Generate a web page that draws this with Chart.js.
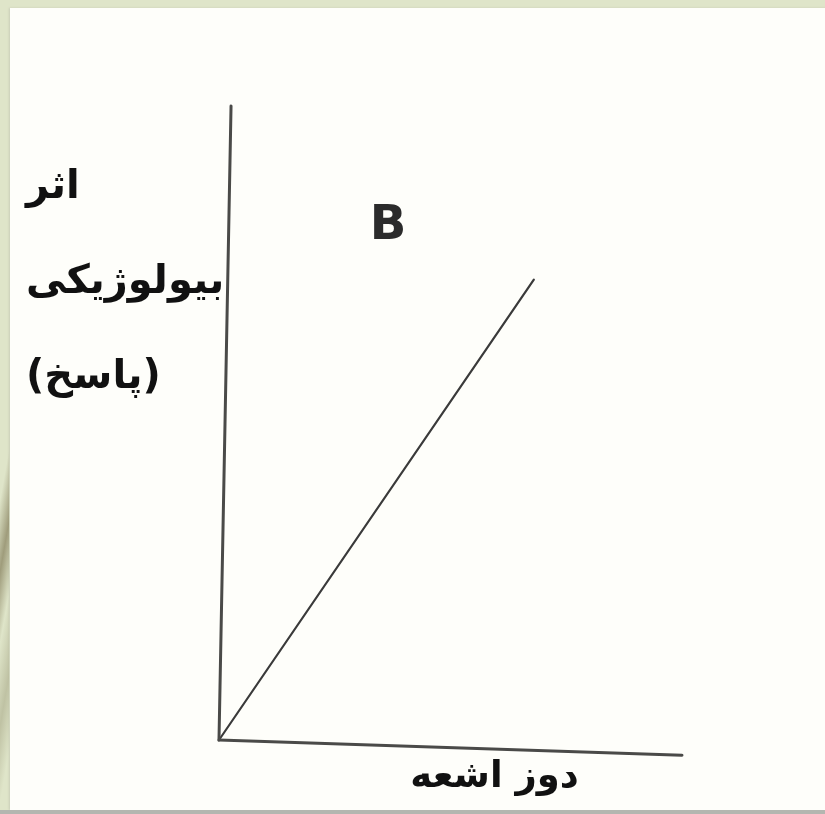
<!DOCTYPE html>
<html lang="fa">
<head>
<meta charset="utf-8">
<title>اثر بیولوژیکی و دوز اشعه</title>
<script src="https://cdn.jsdelivr.net/npm/chart.js@4.4.1/dist/chart.umd.min.js"></script>
<style>
    html, body { margin: 0; padding: 0; }
    body { width: 825px; height: 814px; position: relative; overflow: hidden; background: #dfe5c9; }
    /* صفحه سفید اسلاید */
    .page { position: absolute; left: 10px; top: 8px; width: 830px; height: 802px; background: #fefefa; box-shadow: -1px 0 2px #c9cdb8; }
    .bottom-strip { position: absolute; left: 0; top: 810px; width: 825px; height: 4px; background: #b4b6b0; }
    .stripe { position: absolute; left: 0; top: 380px; width: 9px; height: 430px;
        background: linear-gradient(100deg, transparent 25%, #8f8a68 40%, transparent 55%, #b7b99a 72%, transparent 88%); opacity: 0.8; }
    #nemoodar { position: absolute; left: 0; top: 0; }
</style>
</head>
<body>
<div class="page"></div>
<div class="stripe"></div>
<div class="bottom-strip"></div>
<canvas id="nemoodar" width="825" height="814"></canvas>

<script>
// داده ها - دوز اشعه (x) و پاسخ بیولوژیکی (y)
const dozX = [0, 6.8];
const pasokhY = [0, 7.26];

// محورها کمی کج اسکن شده اند
const mehvarAmoodiX = [0, 0.26];
const mehvarAmoodiY = [0, 10];
const mehvarOfoghiX = [0, 10];
const mehvarOfoghiY = [0, -0.24];

const barchasbY = ["اثر", "بیولوژیکی", "(پاسخ)"];
const barchasbX = "دوز اشعه";
const namKhat = "B";
const jayeNamKhat = { x: 3.65, y: 8.1 };

function noghat(xs, ys) {
    return xs.map((x, i) => ({ x, y: ys[i] }));
}

// نوشتن برچسب ها روی بوم
const pluginBarchasb = {
    id: "barchasb",
    afterDatasetsDraw(chart) {
        const ctx = chart.ctx;
        const sx = chart.scales.x;
        const sy = chart.scales.y;
        ctx.save();
        ctx.fillStyle = "#111";
        ctx.textBaseline = "middle";

        ctx.font = "bold 40px 'DejaVu Sans'";
        ctx.textAlign = "left";
        const satrha = [188, 283, 378];
        barchasbY.forEach((matn, i) => ctx.fillText(matn, 26, satrha[i]));

        ctx.font = "bold 37px 'DejaVu Sans'";
        ctx.textAlign = "center";
        ctx.fillText(barchasbX, sx.getPixelForValue(5.95), 777);

        ctx.font = "bold 48px 'DejaVu Sans'";
        ctx.fillStyle = "#2b2b2b";
        ctx.fillText(namKhat, sx.getPixelForValue(jayeNamKhat.x), sy.getPixelForValue(jayeNamKhat.y));
        ctx.restore();
    },
};

const sabkKhat = { borderColor: "#3a3a3a", pointRadius: 0, fill: false, clip: false, showLine: true, borderCapStyle: "round" };

new Chart(document.getElementById("nemoodar").getContext("2d"), {
    type: "scatter",
    data: {
        datasets: [
            { label: "محور عمودی", data: noghat(mehvarAmoodiX, mehvarAmoodiY), ...sabkKhat, borderWidth: 3, borderColor: "#4a4a48" },
            { label: "محور افقی", data: noghat(mehvarOfoghiX, mehvarOfoghiY), ...sabkKhat, borderWidth: 3, borderColor: "#4a4a48" },
            { label: namKhat, data: noghat(dozX, pasokhY), ...sabkKhat, borderWidth: 2.2 },
        ],
    },
    options: {
        responsive: false,
        animation: false,
        layout: { padding: { left: 219, right: 143, top: 106, bottom: 74 } },
        plugins: { legend: { display: false }, tooltip: { enabled: false } },
        scales: {
            x: { type: "linear", min: 0, max: 10, display: false },
            y: { type: "linear", min: 0, max: 10, display: false },
        },
    },
    plugins: [pluginBarchasb],
});
</script>
</body>
</html>
